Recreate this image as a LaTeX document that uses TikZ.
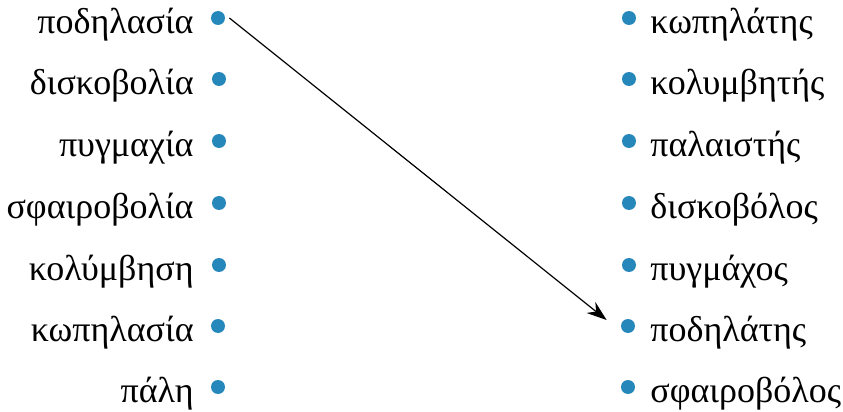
\documentclass[tikz,border=0pt]{standalone}
\usepackage{fontspec}
\setmainfont{Liberation Serif}
\usetikzlibrary{arrows.meta}
\definecolor{dotblue}{RGB}{38,136,186}
\tikzset{
  dot/.style={circle,fill=dotblue,minimum size=7pt,inner sep=0pt},
  lword/.style={anchor=base east,inner sep=0pt,font=\fontsize{18}{21}\selectfont},
  rword/.style={anchor=base west,inner sep=0pt,font=\fontsize{18}{21}\selectfont},
  match/.style={line width=0.6pt,-{Stealth[length=10pt,width=7pt]}}
}
\begin{document}
\begin{tikzpicture}[x=0.5pt,y=-0.5pt]
  \useasboundingbox (0,0) rectangle (843,412);
  % left column
  \node[dot] (l1) at (218,18) {};
  \node[dot] (l2) at (219,79) {};
  \node[dot] (l3) at (219,141) {};
  \node[dot] (l4) at (219,203) {};
  \node[dot] (l5) at (219,265) {};
  \node[dot] (l6) at (218,326) {};
  \node[dot] (l7) at (218,387) {};
  \node[lword] (w1) at (194,33) {ποδηλασία};
  \node[lword] (w2) at (194,94) {δισκοβολία};
  \node[lword] (w3) at (194,156) {πυγμαχία};
  \node[lword] (w4) at (194,218) {σφαιροβολία};
  \node[lword] (w5) at (194,280) {κολύμβηση};
  \node[lword] (w6) at (194,341) {κωπηλασία};
  \node[lword] (w7) at (194,402) {πάλη};
  % right column
  \node[dot] (r1) at (629,18) {};
  \node[dot] (r2) at (629,79) {};
  \node[dot] (r3) at (629,141) {};
  \node[dot] (r4) at (629,203) {};
  \node[dot] (r5) at (629,265) {};
  \node[dot] (r6) at (628,326) {};
  \node[dot] (r7) at (628,387) {};
  \node[rword] (v1) at (650,33) {κωπηλάτης};
  \node[rword] (v2) at (650,94) {κολυμβητής};
  \node[rword] (v3) at (650,156) {παλαιστής};
  \node[rword] (v4) at (650,218) {δισκοβόλος};
  \node[rword] (v5) at (650,280) {πυγμάχος};
  \node[rword] (v6) at (650,341) {ποδηλάτης};
  \node[rword] (v7) at (650,402) {σφαιροβόλος};
  % the example match
  \draw[match] ([xshift=2pt]l1.east) -- ([xshift=-7pt,yshift=3pt]r6.west);
\end{tikzpicture}
\end{document}
